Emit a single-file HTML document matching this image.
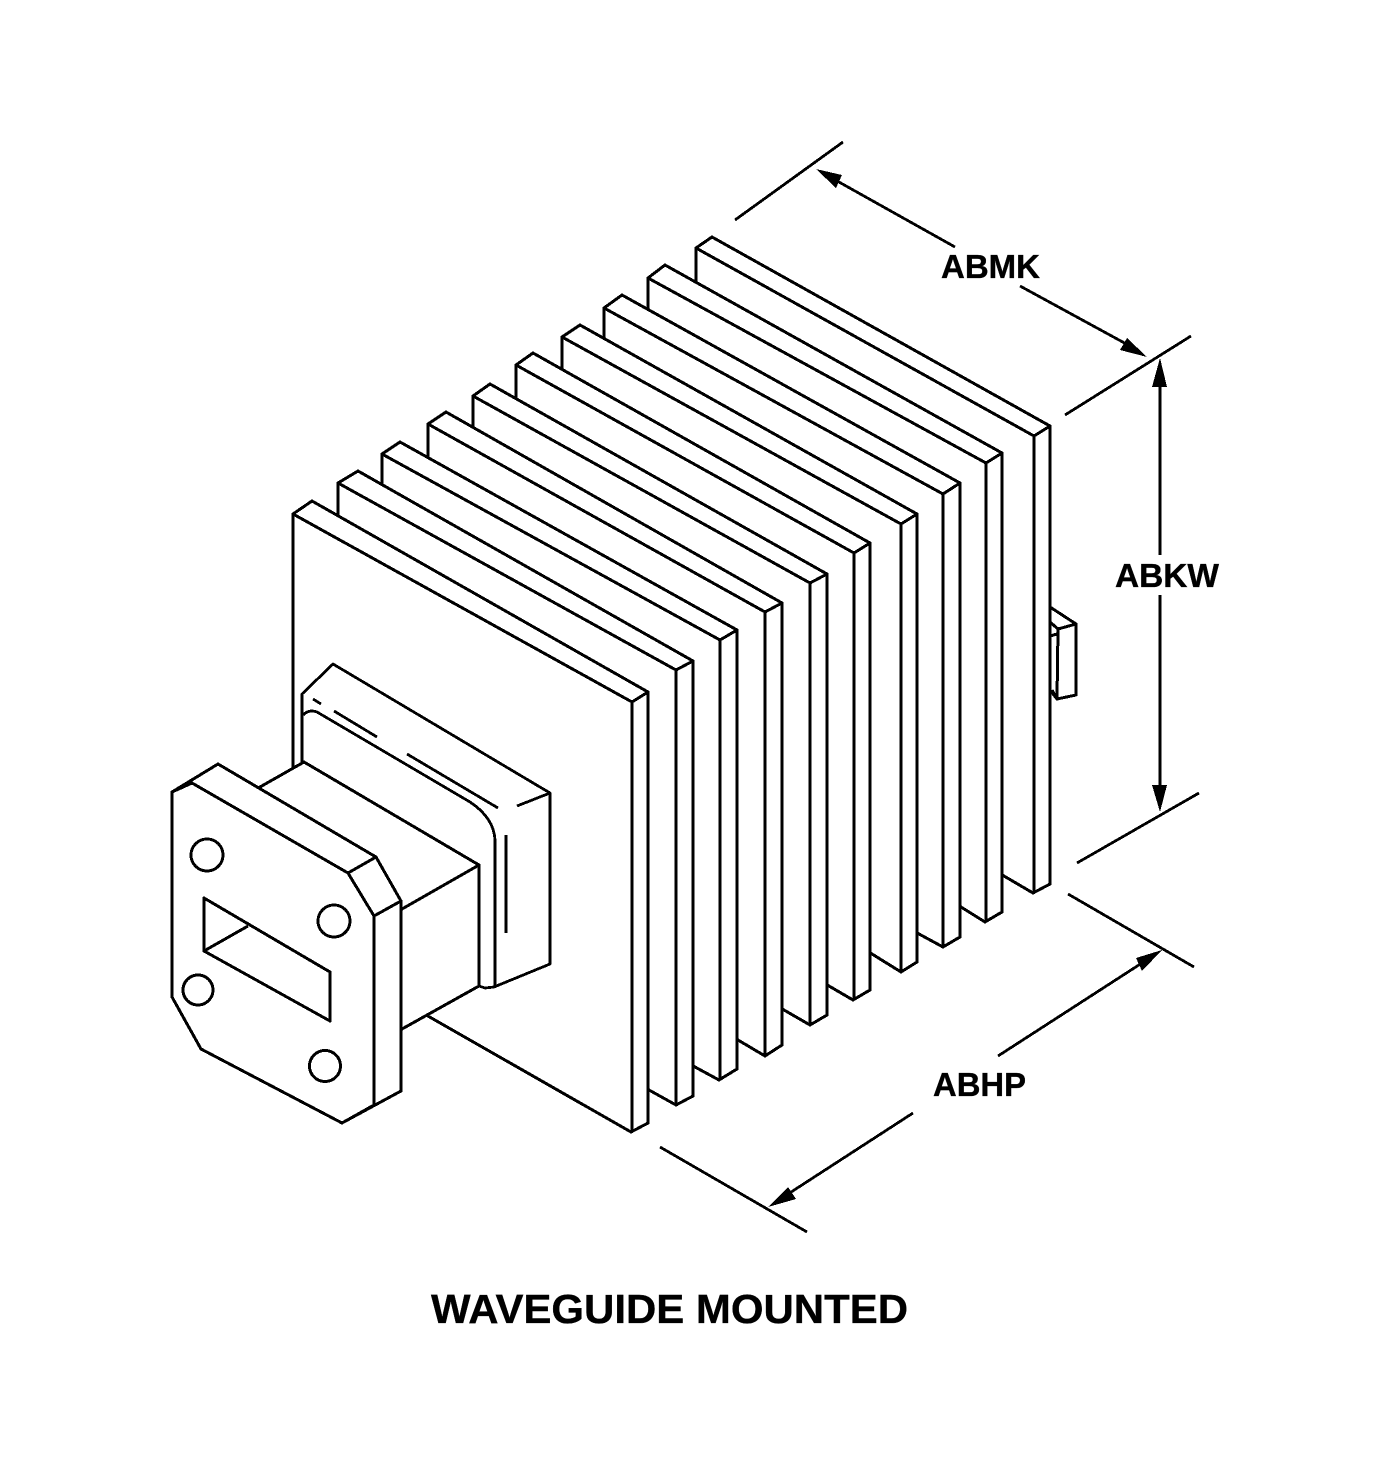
<!DOCTYPE html>
<html>
<head>
<meta charset="utf-8">
<style>
html,body{margin:0;padding:0;background:#fff;}
svg{display:block;}
text{font-family:"Liberation Sans",Arial,sans-serif;font-weight:bold;fill:#000;stroke:#000;stroke-width:0.35px;}
</style>
</head>
<body>
<svg width="1380" height="1462" viewBox="0 0 1380 1462" xmlns="http://www.w3.org/2000/svg">
<rect width="1380" height="1462" fill="#fff"/>

<!-- Rear connector -->
<g fill="#fff" stroke="#000" stroke-width="3" stroke-linejoin="round" shape-rendering="crispEdges">
<polygon points="1050,607 1076,624 1076,695 1057,699 1050,690"/>
<path d="M1058,629 L1076,624 M1050,622 L1058,629 L1057,699 M1050,636 L1057,634 M1052,690 L1057,699" fill="none"/>
</g>

<!-- Fins, back to front -->
<g fill="#fff" stroke="#000" stroke-width="3" stroke-linejoin="round" shape-rendering="crispEdges">
<!-- fin 10 -->
<path d="M696,248 L712,237 L1050,426 L1050,884 L1033,893 L1004,876 L696,700 Z"/><path d="M696,248 L1034,436 L1034,893 M1034,436 L1050,426" fill="none"/>
<!-- fin 9 -->
<path d="M648,278 L665,265 L1002,453 L1002,912 L985,922 L961,907 L648,728 Z"/><path d="M648,278 L986,463 L986,922 M986,463 L1002,453" fill="none"/>
<!-- fin 8 -->
<path d="M604,308 L622,295 L960,483 L960,937 L943,947 L919,934 L604,754 Z"/><path d="M604,308 L943,494 L943,947 M943,494 L960,483" fill="none"/>
<!-- fin 7 -->
<path d="M562,337 L580,325 L917,514 L917,962 L901,972 L872,954 L562,779 Z"/><path d="M562,337 L901,524 L901,972 M901,524 L917,514" fill="none"/>
<!-- fin 6 -->
<path d="M516,365 L533,353 L870,543 L870,990 L853,1000 L829,986 L516,806 Z"/><path d="M516,365 L854,553 L854,1000 M854,553 L870,543" fill="none"/>
<!-- fin 5 -->
<path d="M473,396 L490,384 L827,574 L827,1015 L810,1025 L784,1010 L473,832 Z"/><path d="M473,396 L810,583 L810,1025 M810,583 L827,574" fill="none"/>
<!-- fin 4 -->
<path d="M428,424 L446,412 L782,603 L782,1045 L765,1056 L738,1040 L428,863 Z"/><path d="M428,424 L765,612 L765,1056 M765,612 L782,603" fill="none"/>
<!-- fin 3 -->
<path d="M382,454 L400,442 L737,630 L737,1069 L719,1080 L695,1067 L382,887 Z"/><path d="M382,454 L720,640 L720,1080 M720,640 L737,630" fill="none"/>
<!-- fin 2 -->
<path d="M338,483 L358,471 L693,661 L693,1096 L676,1105 L649,1090 L338,912 Z"/><path d="M338,483 L676,670 L676,1105 M676,670 L693,661" fill="none"/>
<!-- fin 1 -->
<path d="M293,514 L312,501 L648,692 L648,1123 L631,1132 L293,939 Z"/><path d="M293,514 L632,702 L632,1132 M632,702 L648,692" fill="none"/>
</g>

<!-- Collar -->
<g fill="#fff" stroke="#000" stroke-width="2.8" stroke-linejoin="round" shape-rendering="crispEdges">
<polygon points="302,694 333,664 550,793 550,964 494,987 485,988 479,986 479,865 304,762 302,762" />
<path fill="none" d="M303,715 Q309,709 317,712 L470,802 Q494,818 495,840 L495,987"/>
<path fill="none" d="M313,699 L321,704 M334,711 L377,737 M407,754 L498,808 M517,806 L550,793 M506,835 L506,933"/>
</g>

<!-- Waveguide body -->
<g fill="#fff" stroke="#000" stroke-width="3" stroke-linejoin="round" shape-rendering="crispEdges">
<polygon points="260,787 304,762 479,865 479,986 402,1029 350,1000"/>
<path fill="none" d="M479,865 L402,909"/>
</g>

<!-- Flange -->
<g fill="#fff" stroke="#000" stroke-width="3" stroke-linejoin="round" shape-rendering="crispEdges">
<polygon points="172,792 218,764 376,857 401,901 401,1091 342,1123 201,1049 172,997"/>
<polygon points="172,792 192,783 348,873 374,916 374,1105 342,1123 201,1049 172,997"/>
<path fill="none" d="M348,873 L376,857 M374,916 L401,901"/>
<circle cx="207" cy="855" r="16"/>
<circle cx="334" cy="921" r="16"/>
<circle cx="198" cy="990" r="15"/>
<circle cx="325" cy="1066" r="15.5"/>
<polygon points="204,898 330,972 330,1021 204,951"/>
<path fill="none" d="M204,951 L248,926"/>
</g>

<!-- Dimension lines -->
<g fill="none" stroke="#000" stroke-width="2.8" shape-rendering="crispEdges">
<path d="M735,220 L843,142"/>
<path d="M1065,415 L1191,336"/>
<path d="M1077,863 L1199,793"/>
<path d="M1068,894 L1194,967"/>
<path d="M660,1147 L807,1232"/>
<path d="M830,177 L955,247"/>
<path d="M1020,286 L1130,346"/>
<path d="M1160,380 L1160,555"/>
<path d="M1160,595 L1160,790"/>
<path d="M998,1056 L1145,961"/>
<path d="M913,1113 L785,1196"/>
</g>
<g fill="#000" stroke="none" shape-rendering="crispEdges">
<polygon points="816,169 842,175 836,188"/>
<polygon points="1147,357 1120,350 1127,338"/>
<polygon points="1160,358 1152,387 1167,387"/>
<polygon points="1160,812 1152,785 1167,785"/>
<polygon points="1162,950 1142,971 1136,958"/>
<polygon points="768,1207 796,1199 788,1187"/>
</g>

<!-- Labels -->
<text x="941" y="278" font-size="33" textLength="99" lengthAdjust="spacingAndGlyphs">ABMK</text>
<text x="1115" y="587" font-size="33" textLength="104" lengthAdjust="spacingAndGlyphs">ABKW</text>
<text x="933" y="1096" font-size="33" textLength="93" lengthAdjust="spacingAndGlyphs">ABHP</text>
<text x="431" y="1323" font-size="41" textLength="477" lengthAdjust="spacingAndGlyphs">WAVEGUIDE MOUNTED</text>
</svg>
</body>
</html>
